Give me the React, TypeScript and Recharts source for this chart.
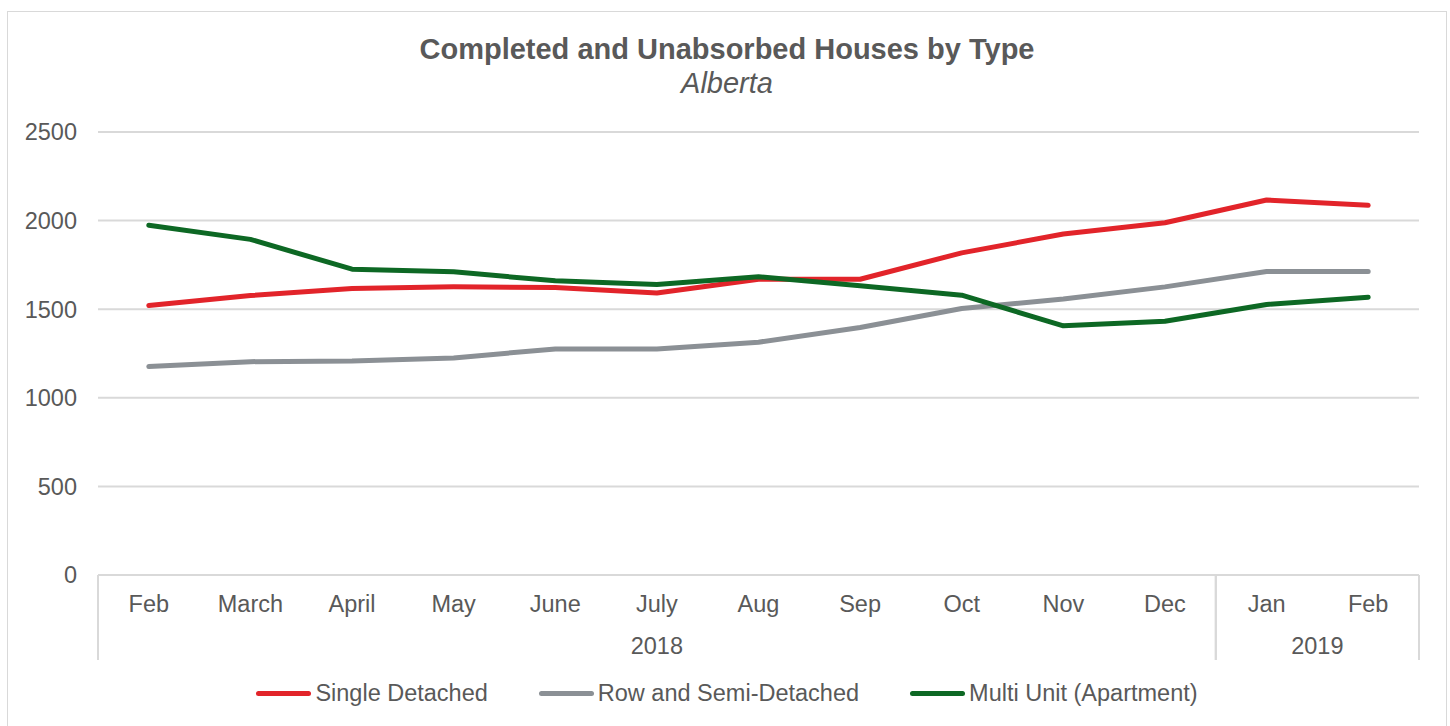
import React from "react";
import { LineChart, Line, XAxis, YAxis, CartesianGrid, Legend } from "recharts";

document.body.style.margin = "0";
document.body.style.overflow = "hidden";

const months = ["Feb", "March", "April", "May", "June", "July", "Aug", "Sep", "Oct", "Nov", "Dec", "Jan", "Feb"];
const singleDetached = [1521, 1577, 1617, 1626, 1623, 1592, 1669, 1669, 1818, 1924, 1988, 2116, 2086];
const rowSemi = [1176, 1204, 1208, 1225, 1276, 1276, 1314, 1397, 1504, 1557, 1626, 1713, 1713];
const multiUnit = [1974, 1894, 1726, 1711, 1660, 1640, 1683, 1632, 1579, 1406, 1432, 1527, 1568];
const yearGroups = [
  { label: "2018", start: 0, end: 10 },
  { label: "2019", start: 11, end: 12 },
];
const yTicks = [0, 500, 1000, 1500, 2000, 2500];

const series = [
  { key: "single", name: "Single Detached", color: "#E2242A" },
  { key: "row", name: "Row and Semi-Detached", color: "#8B9095" },
  { key: "multi", name: "Multi Unit (Apartment)", color: "#0D6824" },
];

const data = months.map((m, i) => ({
  month: m,
  single: singleDetached[i],
  row: rowSemi[i],
  multi: multiUnit[i],
}));

const TEXT = "#595959";
const GRID = "#d9d9d9";
const FONT = "'Liberation Sans', Arial, sans-serif";

// plot is 1321px wide, 13 categories -> half a category slot
const HALF = 1321 / 26;

const YearTick = (props: any) => {
  const { x, y, payload } = props;
  const index = payload?.index ?? props.index;
  const half = payload?.offset || HALF;
  const parts: React.ReactNode[] = [];
  yearGroups.forEach((g) => {
    if (index === g.start) {
      parts.push(<line key="s" x1={x - half} x2={x - half} y1={y - 45} y2={y + 40} stroke={GRID} strokeWidth={2} />);
    }
    if (index === g.end) {
      parts.push(<line key="e" x1={x + half} x2={x + half} y1={y - 45} y2={y + 40} stroke={GRID} strokeWidth={2} />);
    }
    const mid = Math.floor((g.start + g.end) / 2);
    if (index === mid) {
      const shift = (g.start + g.end) % 2 === 1 ? half : 0;
      parts.push(
        <text key="t" x={x + shift} y={y + 34} textAnchor="middle" fill={TEXT} fontSize={23.5} fontFamily={FONT}>
          {g.label}
        </text>
      );
    }
  });
  return <g>{parts}</g>;
};

const LegendContent = () => (
  <div
    style={{
      width: 1438,
      height: 30,
      display: "flex",
      justifyContent: "center",
      alignItems: "center",
      fontFamily: FONT,
      fontSize: 23.5,
      color: TEXT,
    }}
  >
    {series.map((s, i) => (
      <div key={s.key} style={{ display: "flex", alignItems: "center", marginLeft: i === 0 ? 0 : 51 }}>
        <span style={{ display: "inline-block", width: 55, height: 5, borderRadius: 3, background: s.color, marginRight: 4 }} />
        <span>{s.name}</span>
      </div>
    ))}
  </div>
);

export default function App() {
  return (
    <div
      style={{
        position: "absolute",
        left: 7,
        top: 11,
        width: 1438,
        height: 730,
        border: `1px solid ${GRID}`,
        background: "#fff",
      }}
    >
      <div
        style={{
          position: "absolute",
          left: 0,
          top: 20,
          width: 1438,
          textAlign: "center",
          fontFamily: FONT,
          fontSize: 29,
          lineHeight: "34px",
          color: TEXT,
          zIndex: 2,
        }}
      >
        <div style={{ fontWeight: "bold" }}>Completed and Unabsorbed Houses by Type</div>
        <div style={{ fontStyle: "italic" }}>Alberta</div>
      </div>
      <LineChart
        width={1438}
        height={714}
        data={data}
        margin={{ top: 120, right: 27, bottom: 18, left: 0 }}
        style={{ fontFamily: FONT }}
      >
        <CartesianGrid vertical={false} stroke={GRID} strokeWidth={2} />
        <YAxis
          domain={[0, 2500]}
          ticks={yTicks}
          width={90}
          axisLine={false}
          tickLine={false}
          tickSize={0}
          tickMargin={21}
          tick={{ fill: TEXT, fontSize: 23.5, fontFamily: FONT }}
        />
        <XAxis
          dataKey="month"
          interval={0}
          height={45}
          padding={{ left: HALF, right: HALF }}
          axisLine={{ stroke: GRID, strokeWidth: 2 }}
          tickLine={false}
          tickSize={0}
          tickMargin={20}
          tick={{ fill: TEXT, fontSize: 23.5, fontFamily: FONT }}
        />
        <XAxis
          xAxisId="year"
          dataKey="month"
          interval={0}
          height={58}
          padding={{ left: HALF, right: HALF }}
          axisLine={false}
          tickLine={false}
          tickSize={0}
          tickMargin={0}
          tick={<YearTick />}
        />
        <Legend
          verticalAlign="bottom"
          height={30}
          content={<LegendContent />}
          wrapperStyle={{ left: 0, width: 1438 }}
        />
        {series.map((s) => (
          <Line
            key={s.key}
            type="linear"
            dataKey={s.key}
            name={s.name}
            stroke={s.color}
            strokeWidth={5}
            dot={false}
            activeDot={false}
            strokeLinecap="round"
            strokeLinejoin="round"
            isAnimationActive={false}
          />
        ))}
      </LineChart>
    </div>
  );
}
